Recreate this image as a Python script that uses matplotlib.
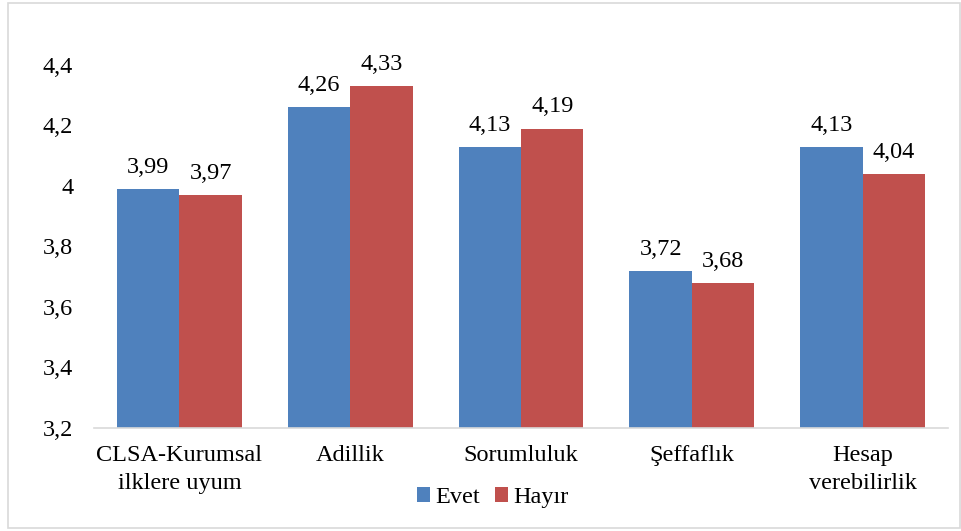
import matplotlib
matplotlib.use("Agg")
import matplotlib.pyplot as plt
import numpy as np
from matplotlib.patches import Rectangle

categories = ["CLSA-Kurumsal\nilklere uyum", "Adillik", "Sorumluluk", "Şeffaflık", "Hesap\nverebilirlik"]
evet = [3.99, 4.26, 4.13, 3.72, 4.13]
hayir = [3.97, 4.33, 4.19, 3.68, 4.04]
yticks = [3.2, 3.4, 3.6, 3.8, 4.0, 4.2, 4.4]

plt.rcParams['font.family'] = ['Liberation Serif', 'DejaVu Serif']

BLUE = "#4F81BD"
RED = "#C0504D"
FS = 17.5

fig = plt.figure(figsize=(9.62, 5.31), dpi=100)
ax = fig.add_axes([0.0977, 0.194, 0.8878, 0.6836])

x = np.arange(len(categories))
w = 0.365
b1 = ax.bar(x - w / 2, [v - 3.2 for v in evet], w, bottom=3.2, color=BLUE, label="Evet")
b2 = ax.bar(x + w / 2, [v - 3.2 for v in hayir], w, bottom=3.2, color=RED, label="Hayır")

def fmt(v):
    s = f"{v:.2f}".rstrip("0").rstrip(".")
    return s.replace(".", ",")

for xs, vals in ((x - w / 2, evet), (x + w / 2, hayir)):
    for xi, v in zip(xs, vals):
        ax.annotate(f"{v:.2f}".replace(".", ","), (xi, v), xytext=(0, 8),
                    textcoords="offset points", ha="center", va="bottom", fontsize=FS)

ax.set_xlim(-0.5, len(categories) - 0.5)
ax.set_ylim(3.2, 4.4)
ax.set_yticks(yticks)
ax.set_yticklabels([fmt(v) for v in yticks], fontsize=FS)
ax.set_xticks(x)
ax.set_xticklabels(categories, fontsize=FS, linespacing=1.4)
ax.tick_params(axis="x", length=0, pad=12.5)
ax.tick_params(axis="y", length=0, pad=15)
for s in ("top", "right", "left"):
    ax.spines[s].set_visible(False)
ax.spines["bottom"].set_color("#D9D9D9")
ax.spines["bottom"].set_linewidth(1.2)

fig.legend(handles=[b1, b2], loc="center", bbox_to_anchor=(0.512, 0.063), ncol=2,
           frameon=False, fontsize=FS, handlelength=0.55, handleheight=0.55,
           handletextpad=0.2, columnspacing=0.6)

fig.patches.append(Rectangle((8 / 962, 3 / 531), 952 / 962, 525 / 531,
                             transform=fig.transFigure, fill=False,
                             edgecolor="#D9D9D9", linewidth=1.2))

fig.savefig("out.png", dpi=100)
